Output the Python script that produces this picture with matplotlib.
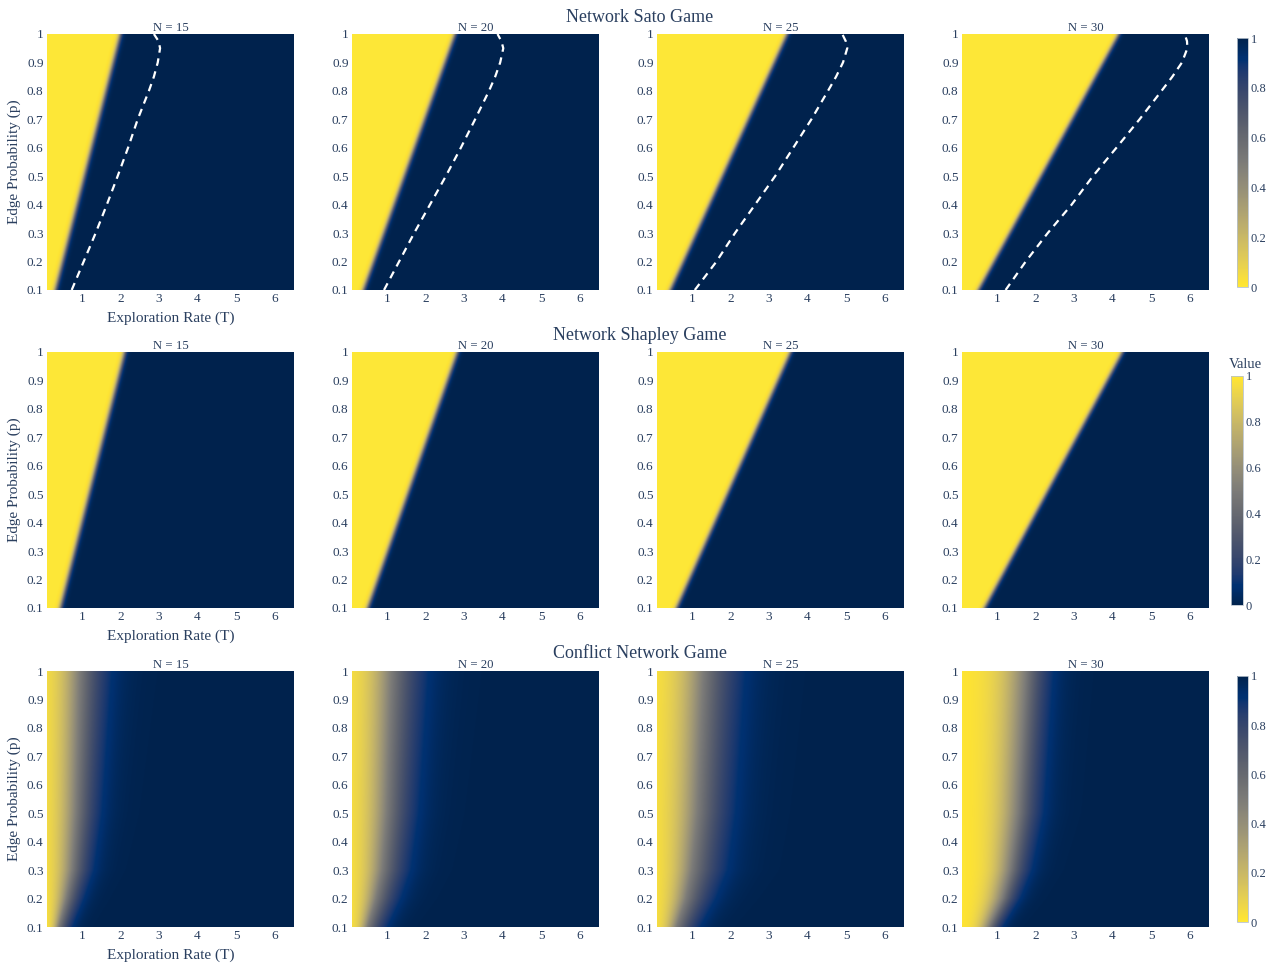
import matplotlib

matplotlib.use("Agg")

import matplotlib.pyplot as plt
import numpy as np
from matplotlib import cm, colors

plt.rcParams["font.family"] = ["Liberation Serif", "DejaVu Serif"]

W, H = 1275, 963
TEXT = "#2a3f5f"

# axes and labels
N_VALUES = [15, 20, 25, 30]
T_RANGE = (0.1, 6.5)
P_RANGE = (0.1, 1.0)
X_TICKS = [1, 2, 3, 4, 5, 6]
Y_TICKS = [0.1, 0.2, 0.3, 0.4, 0.5, 0.6, 0.7, 0.8, 0.9, 1.0]
Y_TICK_LABELS = ["0.1", "0.2", "0.3", "0.4", "0.5", "0.6", "0.7", "0.8", "0.9", "1"]
CBAR_TICKS = [0, 0.2, 0.4, 0.6, 0.8, 1]
CBAR_LABELS = ["0", "0.2", "0.4", "0.6", "0.8", "1"]
ROW_TITLES = ["Network Sato Game", "Network Shapley Game", "Conflict Network Game"]

# Sato game: yellow/blue edge (T) at p = 0.1 and p = 1
SATO_EDGE_LOW = [0.32, 0.40, 0.45, 0.53]
SATO_EDGE_HIGH = [2.00, 2.77, 3.47, 4.16]

# Sato game: dashed white curve
CURVE_P = [0.1, 0.2, 0.3, 0.4, 0.5, 0.6, 0.7, 0.8, 0.85, 0.9, 0.95, 0.975, 1.0]
SATO_CURVE_T = [
    [0.74, 1.05, 1.36, 1.65, 1.93, 2.20, 2.45, 2.74, 2.87, 2.97, 3.03, 2.99, 2.87],
    [0.93, 1.32, 1.71, 2.12, 2.53, 2.92, 3.29, 3.65, 3.81, 3.94, 4.02, 3.97, 3.87],
    [1.08, 1.64, 2.12, 2.64, 3.16, 3.63, 4.10, 4.53, 4.74, 4.92, 5.03, 4.99, 4.90],
    [1.23, 1.75, 2.32, 2.94, 3.49, 4.10, 4.70, 5.27, 5.55, 5.80, 5.94, 5.93, 5.87],
]

# Shapley game: yellow/blue edge (T) at p = 0.1 and p = 1
SHAPLEY_EDGE_LOW = [0.45, 0.51, 0.61, 0.69]
SHAPLEY_EDGE_HIGH = [2.12, 2.84, 3.57, 4.27]

# Conflict game: T where value reaches 0.1 / 0.5 / 0.9, at several p levels
CONFLICT_P = [0.1, 0.2, 0.3, 0.5, 1.0]
CONFLICT_T10 = [
    [0.20, 0.24, 0.26, 0.27, 0.30],
    [0.22, 0.28, 0.32, 0.34, 0.38],
    [0.25, 0.33, 0.38, 0.40, 0.48],
    [0.45, 0.65, 0.78, 0.85, 0.95],
]
CONFLICT_T50 = [
    [0.40, 0.60, 0.75, 0.85, 0.95],
    [0.50, 0.72, 0.88, 1.00, 1.12],
    [0.60, 0.85, 1.00, 1.15, 1.30],
    [0.80, 1.15, 1.35, 1.55, 1.75],
]
CONFLICT_T90 = [
    [0.75, 1.05, 1.30, 1.50, 1.75],
    [1.00, 1.35, 1.60, 1.80, 2.05],
    [1.20, 1.60, 1.90, 2.10, 2.35],
    [1.15, 1.60, 1.90, 2.20, 2.45],
]

t_grid = np.linspace(T_RANGE[0], T_RANGE[1], 900)
p_grid = np.linspace(P_RANGE[0], P_RANGE[1], 360)
TT, PP = np.meshgrid(t_grid, p_grid)
FRAC = (PP - P_RANGE[0]) / (P_RANGE[1] - P_RANGE[0])


def sharp_field(low, high, width=0.035):
    edge = low + (high - low) * FRAC
    return 1.0 / (1.0 + np.exp(-(TT - edge) / width))


def soft_field(t10, t50, t90):
    # edge positions per p row at CONFLICT_P
    a10 = np.interp(p_grid, CONFLICT_P, t10)[:, None]
    a50 = np.interp(p_grid, CONFLICT_P, t50)[:, None]
    a90 = np.interp(p_grid, CONFLICT_P, t90)[:, None]
    w = np.where(TT < a50, (a50 - a10) / np.log(9), (a90 - a50) / np.log(9))
    return 1.0 / (1.0 + np.exp(-(TT - a50) / w))


def px_axes(fig, left, top, width, height):
    return fig.add_axes([left / W, 1 - (top + height) / H, width / W, height / H])


fig = plt.figure(figsize=(W / 100, H / 100), dpi=100)

col_left = [47, 352, 657, 962]
row_top = [34, 352, 671]
panel_w, panel_h = 247, 256
row_cmap = ["cividis_r", "cividis", "cividis_r"]

for r in range(3):
    for c, n in enumerate(N_VALUES):
        ax = px_axes(fig, col_left[c], row_top[r], panel_w, panel_h)
        if r == 0:
            field = sharp_field(SATO_EDGE_LOW[c], SATO_EDGE_HIGH[c])
        elif r == 1:
            field = 1.0 - sharp_field(SHAPLEY_EDGE_LOW[c], SHAPLEY_EDGE_HIGH[c])
        else:
            field = soft_field(CONFLICT_T10[c], CONFLICT_T50[c], CONFLICT_T90[c])
        ax.imshow(field, origin="lower", aspect="auto", cmap=row_cmap[r],
                  vmin=0, vmax=1, interpolation="bilinear",
                  extent=[T_RANGE[0], T_RANGE[1], P_RANGE[0], P_RANGE[1]])
        if r == 0:
            ax.plot(SATO_CURVE_T[c], CURVE_P, color="white", lw=1.6,
                    ls=(0, (3.4, 2.6)), clip_on=True)
        ax.set_xlim(*T_RANGE)
        ax.set_ylim(*P_RANGE)
        ax.set_xticks(X_TICKS)
        ax.set_yticks(Y_TICKS)
        ax.set_yticklabels(Y_TICK_LABELS)
        ax.tick_params(length=0, labelsize=9.5, labelcolor=TEXT, pad=2.5)
        for s in ax.spines.values():
            s.set_visible(False)
        ax.set_title(f"N = {n}", fontsize=9.2, color=TEXT, pad=1.5)
        if c == 0:
            ax.set_xlabel("Exploration Rate (T)", fontsize=11, color=TEXT, labelpad=4)
            ax.set_ylabel("Edge Probability (p)", fontsize=11, color=TEXT, labelpad=4)

title_y = [17, 335, 654]
for r, title in enumerate(ROW_TITLES):
    fig.text(640 / W, 1 - title_y[r] / H, title, ha="center", va="center",
             fontsize=13, color=TEXT)

# colorbars
cbar_boxes = [(1237, 38, 11, 249), (1231, 376, 12, 229), (1237, 676, 11, 246)]
for r, box in enumerate(cbar_boxes):
    cax = px_axes(fig, *box)
    sm = cm.ScalarMappable(norm=colors.Normalize(0, 1), cmap=row_cmap[r])
    cb = fig.colorbar(sm, cax=cax, ticks=CBAR_TICKS)
    cb.ax.set_yticklabels(CBAR_LABELS)
    cb.ax.tick_params(length=0, labelsize=9, labelcolor=TEXT, pad=2)
    cb.outline.set_edgecolor("#b8c2cc")
    cb.outline.set_linewidth(0.6)
    if r == 1:
        fig.text(1229 / W, 1 - 364 / H, "Value", ha="left", va="center",
                 fontsize=10.5, color=TEXT)

fig.savefig("out.png", dpi=100, facecolor="white")
plt.close(fig)
